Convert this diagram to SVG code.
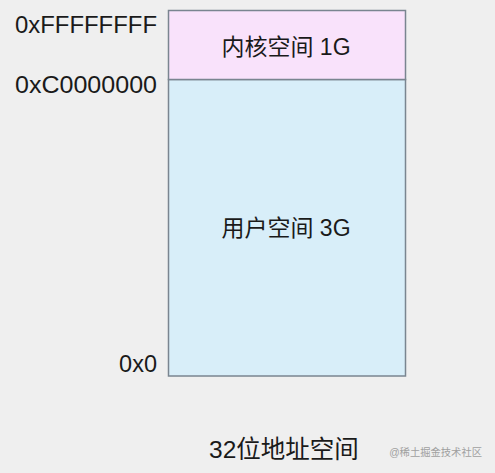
<svg xmlns="http://www.w3.org/2000/svg" width="495" height="473" viewBox="0 0 495 473">
<style>
.t{font-family:"Liberation Sans","Noto Sans CJK SC",sans-serif;fill:#1a1a1a}
.box{stroke:#7a8590;stroke-width:1.5}
</style>
<rect width="495" height="473" fill="#efefef"/>
<g id="user">
<rect class="box" x="168.5" y="79.5" width="237" height="296.5" fill="#d8eef9"/>
<text class="t" x="286" y="236" font-size="23" text-anchor="middle">用户空间 3G</text>
</g>
<g id="kernel">
<rect class="box" x="168.5" y="10.5" width="237" height="69" fill="#f9e2fb"/>
<text class="t" x="286" y="55" font-size="23" text-anchor="middle">内核空间 1G</text>
</g>
<g id="labels">
<text class="t" x="15" y="33" font-size="23.5" textLength="142" lengthAdjust="spacingAndGlyphs">0xFFFFFFFF</text>
<text class="t" x="15" y="93" font-size="23.5" textLength="142" lengthAdjust="spacingAndGlyphs">0xC0000000</text>
<text class="t" x="157" y="372" font-size="23.5" text-anchor="end">0x0</text>
<text class="t" x="284" y="458" font-size="24.5" text-anchor="middle">32位地址空间</text>
<text x="482" y="456" font-size="10.3" text-anchor="end" fill="#a0a0a0" font-family="Liberation Sans,'Noto Sans CJK SC',sans-serif">@稀土掘金技术社区</text>
</g>
<g id="connectors"/>
</svg>
